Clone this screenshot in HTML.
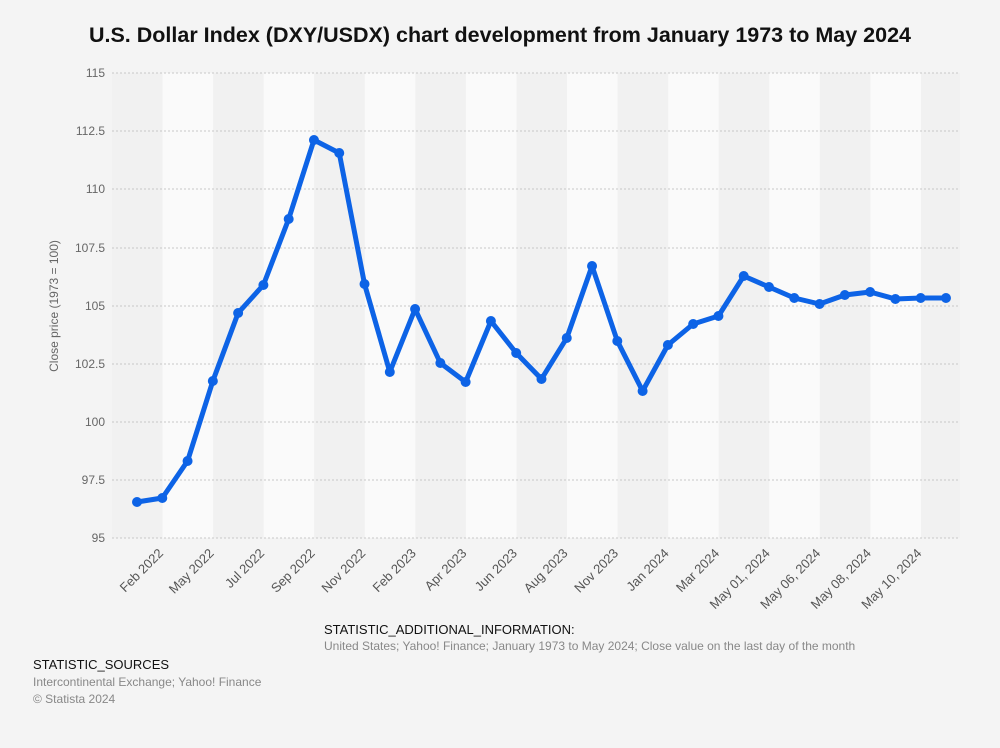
<!DOCTYPE html>
<html><head><meta charset="utf-8"><style>
body{margin:0;background:#f4f4f4;width:1000px;height:743px;overflow:hidden;font-family:"Liberation Sans",sans-serif;}
</style></head><body>
<svg width="1000" height="743" xmlns="http://www.w3.org/2000/svg" font-family="Liberation Sans, sans-serif">
<rect width="1000" height="743" fill="#f4f4f4"/>
<text x="500" y="42" text-anchor="middle" font-size="21.5" font-weight="bold" fill="#111">U.S. Dollar Index (DXY/USDX) chart development from January 1973 to May 2024</text>
<g id="bands"></g>
<g stroke="#c8c8c8" stroke-dasharray="2,2" stroke-width="1">
<line x1="112" x2="960" y1="73" y2="73"/><line x1="112" x2="960" y1="131" y2="131"/>
<line x1="112" x2="960" y1="189" y2="189"/><line x1="112" x2="960" y1="248" y2="248"/>
<line x1="112" x2="960" y1="306" y2="306"/><line x1="112" x2="960" y1="364" y2="364"/>
<line x1="112" x2="960" y1="422" y2="422"/><line x1="112" x2="960" y1="480" y2="480"/>
<line x1="112" x2="960" y1="538" y2="538"/>
</g>
<g font-size="12" fill="#666" text-anchor="end">
<text x="105" y="77">115</text><text x="105" y="135">112.5</text><text x="105" y="193">110</text>
<text x="105" y="252">107.5</text><text x="105" y="310">105</text><text x="105" y="368">102.5</text>
<text x="105" y="426">100</text><text x="105" y="484">97.5</text><text x="105" y="542">95</text>
</g>
<text transform="translate(58,306) rotate(-90)" font-size="12" fill="#666" text-anchor="middle">Close price (1973 = 100)</text>
<g id="labels" font-size="13" fill="#555" text-anchor="end"></g>
<polyline id="line" fill="none" stroke="#0d63e6" stroke-width="5" stroke-linejoin="round" stroke-linecap="round"/>
<g id="dots" fill="#0d63e6"></g>
<text x="324" y="634" font-size="13" fill="#111">STATISTIC_ADDITIONAL_INFORMATION:</text>
<text x="324" y="650" font-size="12" fill="#888">United States; Yahoo! Finance; January 1973 to May 2024; Close value on the last day of the month</text>
<text x="33" y="669" font-size="13" fill="#111">STATISTIC_SOURCES</text>
<text x="33" y="686" font-size="12" fill="#888">Intercontinental Exchange; Yahoo! Finance</text>
<text x="33" y="703" font-size="12" fill="#888">© Statista 2024</text>
</svg>
<script>
const ns="http://www.w3.org/2000/svg";
const bands=document.getElementById('bands');
for(let i=0;i<17;i++){const x0=112+i*50.56;const r=document.createElementNS(ns,'rect');
r.setAttribute('x',x0);r.setAttribute('y',73);r.setAttribute('width',Math.min(50.56,960-x0));r.setAttribute('height',465);
r.setAttribute('fill',i%2?'#fafafa':'#f1f1f1');bands.appendChild(r);}
const ys=[502,498,461,381,313,285,219,140,153,284,372,309,363,382,321,353,379,338,266,341,391,345,324,316,276,287,298,304,295,292,299,298,298];
let pts=[];const dots=document.getElementById('dots');
ys.forEach((y,i)=>{const x=137+i*25.28;pts.push(x+','+y);const c=document.createElementNS(ns,'circle');
c.setAttribute('cx',x);c.setAttribute('cy',y);c.setAttribute('r',5);dots.appendChild(c);});
document.getElementById('line').setAttribute('points',pts.join(' '));
const labs=['Feb 2022','May 2022','Jul 2022','Sep 2022','Nov 2022','Feb 2023','Apr 2023','Jun 2023','Aug 2023','Nov 2023','Jan 2024','Mar 2024','May 01, 2024','May 06, 2024','May 08, 2024','May 10, 2024'];
const lg=document.getElementById('labels');
labs.forEach((l,i)=>{const x=163+i*50.56+1;const t=document.createElementNS(ns,'text');
t.setAttribute('transform','translate('+x+',554) rotate(-45)');t.textContent=l;lg.appendChild(t);});
</script>
</body></html>
